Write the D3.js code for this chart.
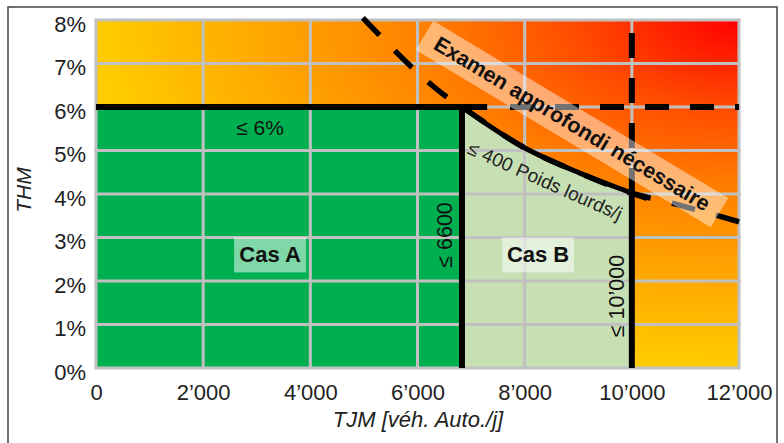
<!DOCTYPE html>
<html><head><meta charset="utf-8">
<script src="https://cdn.jsdelivr.net/npm/d3@7"></script>
<style>
html,body{margin:0;padding:0;background:#fff;}
svg{display:block;font-family:"Liberation Sans",Arial,sans-serif;}
</style></head>
<body><svg id="c" width="784" height="443"></svg>
<script>
// ---- data ----
const xTicks = [0, 2000, 4000, 6000, 8000, 10000, 12000];
const xTickLabels = ["0", "2’000", "4’000", "6’000", "8’000", "10’000", "12’000"];
const yTicks = [0, 1, 2, 3, 4, 5, 6, 7, 8];
const yTickLabels = ["0%", "1%", "2%", "3%", "4%", "5%", "6%", "7%", "8%"];
const thmLimit = 6;            // ≤ 6%
const tjmLimitA = 6830;        // boundary line labelled ≤ 6600
const tjmLimitB = 10000;       // ≤ 10'000
// ≤ 400 heavy vehicles/day boundary (TJM, THM%)
const hgvCurve = [[6830, 6.0], [7970, 5.08], [9030, 4.48], [10000, 4.02], [10280, 3.89]];
// "Examen approfondi" dashed boundary
const examCurve = [[4980, 8.05], [5340, 7.59], [5950, 6.85], [6570, 6.21], [6830, 6.0], [7970, 5.08], [9030, 4.48], [10000, 4.02], [10750, 3.79], [12000, 3.36]];
const solid6End = 7300;        // solid part of 6% line
const dash6Start = 7727;       // dashed continuation
const dash10Top = 7.7;         // dashed part of 10'000 line (top)

const svg = d3.select("#c");
const x = d3.scaleLinear().domain([0, 12000]).range([96, 739]);
const y = d3.scaleLinear().domain([0, 8]).range([368, 20]);

// outer frame
svg.append("rect").attr("x", 8).attr("y", 7).attr("width", 769).attr("height", 450)
  .attr("fill", "none").attr("stroke", "#444").attr("stroke-width", 1.5);

// gradient
const defs = svg.append("defs");
const rg = defs.append("radialGradient").attr("id", "bg")
  .attr("gradientUnits", "objectBoundingBox").attr("cx", 1).attr("cy", 0).attr("r", 1).attr("fx", 1).attr("fy", 0);
rg.append("stop").attr("offset", 0).attr("stop-color", "#ff0000");
rg.append("stop").attr("offset", 0.25).attr("stop-color", "#ff4a00");
rg.append("stop").attr("offset", 0.5).attr("stop-color", "#ff8200");
rg.append("stop").attr("offset", 0.8).attr("stop-color", "#ffb000");
rg.append("stop").attr("offset", 1).attr("stop-color", "#ffcc00");

svg.append("rect").attr("x", x(0)).attr("y", y(8)).attr("width", x(12000) - x(0)).attr("height", y(0) - y(8))
  .attr("fill", "url(#bg)");

// Cas A area
svg.append("rect").attr("x", x(0)).attr("y", y(thmLimit)).attr("width", x(tjmLimitA) - x(0))
  .attr("height", y(0) - y(thmLimit)).attr("fill", "#00b050");

// Cas B area
const line = d3.line().x(d => x(d[0])).y(d => y(d[1])).curve(d3.curveMonotoneX);
svg.append("path").attr("d", line(hgvCurve.filter(d => d[0] <= tjmLimitB))
    .replace(/^M/, "M" + x(tjmLimitA) + "," + y(0) + "L") + "L" + x(tjmLimitB) + "," + y(0) + "Z")
  .attr("fill", "#c6e0b4");

// grid
const grid = svg.append("g").attr("stroke", "#c0c0c0").attr("stroke-width", 3);
xTicks.forEach(t => grid.append("line").attr("x1", x(t)).attr("x2", x(t)).attr("y1", y(0)).attr("y2", y(8)));
yTicks.forEach(t => grid.append("line").attr("x1", x(0) - 1.5).attr("x2", x(12000) + 1.5).attr("y1", y(t)).attr("y2", y(t)));

// label boxes
function box(cx, cy, w, h) {
  svg.append("rect").attr("x", cx - w / 2).attr("y", cy - h / 2).attr("width", w).attr("height", h)
    .attr("fill", "#fff").attr("fill-opacity", 0.5);
}
box(x(3250), y(2.6), 72, 35);
box(x(8250), y(2.6), 72, 35);

// black lines
const K = "#000";
svg.append("line").attr("x1", x(0)).attr("x2", x(solid6End)).attr("y1", y(thmLimit)).attr("y2", y(thmLimit))
  .attr("stroke", K).attr("stroke-width", 6);
svg.append("line").attr("x1", x(dash6Start)).attr("x2", x(12000)).attr("y1", y(thmLimit)).attr("y2", y(thmLimit))
  .attr("stroke", K).attr("stroke-width", 6).attr("stroke-dasharray", "24,21");
svg.append("line").attr("x1", x(tjmLimitA)).attr("x2", x(tjmLimitA)).attr("y1", y(0)).attr("y2", y(thmLimit) - 3)
  .attr("stroke", K).attr("stroke-width", 6);
svg.append("line").attr("x1", x(tjmLimitB)).attr("x2", x(tjmLimitB)).attr("y1", y(0)).attr("y2", y(4.02))
  .attr("stroke", K).attr("stroke-width", 6);
svg.append("line").attr("x1", x(tjmLimitB)).attr("x2", x(tjmLimitB)).attr("y1", y(dash10Top)).attr("y2", y(4.02))
  .attr("stroke", K).attr("stroke-width", 6).attr("stroke-dasharray", "25,20");
svg.append("path").attr("d", line(hgvCurve)).attr("fill", "none").attr("stroke", K).attr("stroke-width", 5);
const ex = svg.append("path").attr("d", line(examCurve)).attr("fill", "none").attr("stroke", K).attr("stroke-width", 5.5);
const exLen = ex.node().getTotalLength();
// stretch dash period slightly so the line both starts and ends with a dash
const nPer = Math.round((exLen - 24) / 44);
const per = (exLen - 24) / nPer;
ex.attr("stroke-dasharray", `24,${(per - 24).toFixed(2)}`);

// band "Examen approfondi nécessaire"
const band = svg.append("g").attr("transform", "translate(572,124) rotate(31)");
band.append("rect").attr("x", -172).attr("y", -17).attr("width", 344).attr("height", 34)
  .attr("fill", "#fff").attr("fill-opacity", 0.45);
band.append("text").attr("text-anchor", "middle").attr("dominant-baseline", "central")
  .attr("font-weight", "bold").attr("font-size", 21.5).attr("fill", "#111").text("Examen approfondi nécessaire");

// texts
svg.append("text").attr("x", 260).attr("y", 127).attr("text-anchor", "middle").attr("dominant-baseline", "central")
  .attr("font-size", 21).attr("fill", "#111").text("≤ 6%");
svg.append("text").attr("x", x(3250)).attr("y", y(2.6)).attr("text-anchor", "middle").attr("dominant-baseline", "central")
  .attr("font-size", 22).attr("font-weight", "bold").attr("fill", "#111").text("Cas A");
svg.append("text").attr("x", x(8250)).attr("y", y(2.6)).attr("text-anchor", "middle").attr("dominant-baseline", "central")
  .attr("font-size", 22).attr("font-weight", "bold").attr("fill", "#111").text("Cas B");
svg.append("text").attr("transform", "translate(445,235) rotate(-90)").attr("text-anchor", "middle").attr("dominant-baseline", "central")
  .attr("font-size", 21.5).attr("fill", "#111").text("≤ 6600");
svg.append("text").attr("transform", "translate(617,296) rotate(-90)").attr("text-anchor", "middle").attr("dominant-baseline", "central")
  .attr("font-size", 21.5).attr("fill", "#111").text("≤ 10’000");
svg.append("text").attr("transform", "translate(545,181) rotate(24)").attr("text-anchor", "middle").attr("dominant-baseline", "central")
  .attr("font-size", 19).attr("fill", "#222").text("≤ 400 Poids lourds/j");

// axes
const ax = svg.append("g").attr("transform", `translate(0,${y(0)})`)
  .call(d3.axisBottom(x).tickValues(xTicks).tickFormat((d, i) => xTickLabels[i]).tickSize(0).tickPadding(16));
const ay = svg.append("g").attr("transform", `translate(${x(0)},0)`)
  .call(d3.axisLeft(y).tickValues(yTicks).tickFormat((d, i) => yTickLabels[i]).tickSize(0).tickPadding(10));
[ax, ay].forEach(a => {
  a.select(".domain").remove();
  a.selectAll("text").attr("font-size", 22).attr("fill", "#222").attr("font-family", "Liberation Sans, Arial, sans-serif");
});
ay.selectAll("text").attr("dy", "0.5em");

svg.append("text").attr("x", 418).attr("y", 427).attr("text-anchor", "middle").attr("font-style", "italic")
  .attr("font-size", 22).attr("fill", "#222").text("TJM [véh. Auto./j]");
svg.append("text").attr("transform", "translate(23,190) rotate(-90)").attr("text-anchor", "middle").attr("dominant-baseline", "central")
  .attr("font-style", "italic").attr("font-size", 21).attr("fill", "#222").text("THM");
</script></body></html>
